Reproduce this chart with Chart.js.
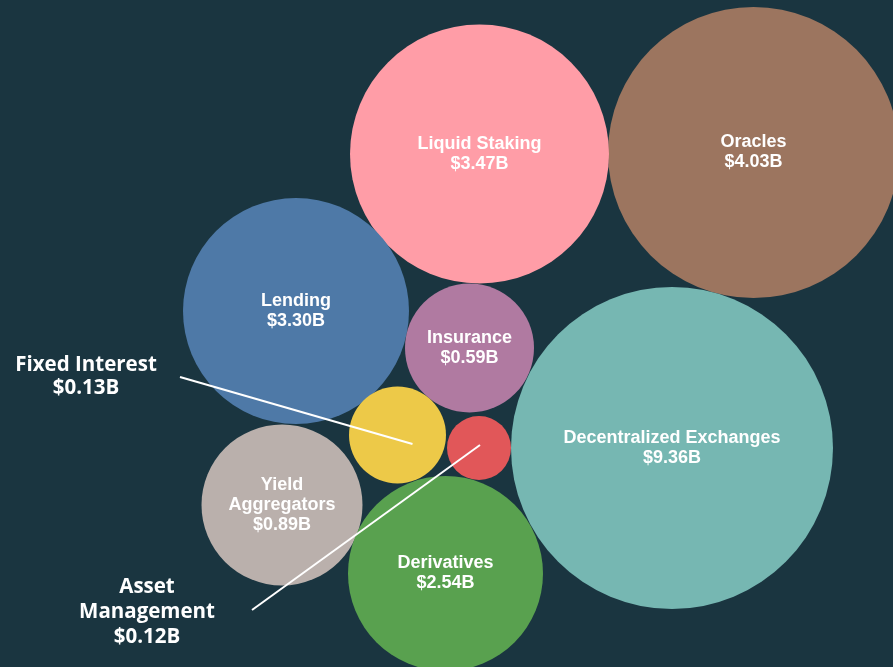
<!DOCTYPE html>
<html>
<head>
<meta charset="utf-8">
<script src="https://cdn.jsdelivr.net/npm/chart.js@4/dist/chart.umd.min.js"></script>
<style>
  html, body { margin: 0; padding: 0; background: #1a3540; }
  #wrap { width: 893px; height: 667px; position: relative; }
</style>
</head>
<body>
<div id="wrap"><canvas id="c" width="893" height="667"></canvas></div>
<script>
// ---- data ----
const categories = ['Oracles', 'Liquid Staking', 'Lending', 'Insurance', 'Decentralized Exchanges', 'Fixed Interest', 'Asset Management', 'Yield Aggregators', 'Derivatives'];
const tvlBillions = [4.03, 3.47, 3.30, 0.59, 9.36, 0.13, 0.12, 0.89, 2.54];
const labelLines = [['Oracles'], ['Liquid Staking'], ['Lending'], ['Insurance'], ['Decentralized Exchanges'], ['Fixed Interest'], ['Asset', 'Management'], ['Yield', 'Aggregators'], ['Derivatives']];

// ---- packed layout (chart units = pixels) ----
const packX = [753.5, 479.5, 296, 469.5, 672, 397.5, 479, 282, 445.5];
const packY = [152.5, 154, 311, 348, 448, 435, 448, 505, 573.5];
const packR = [145.5, 129.5, 113, 64.5, 161, 48.5, 32, 80.5, 97.5];
const colors = ['#9c755f', '#ff9da7', '#4e79a7', '#b07aa1', '#76b7b2', '#edc948', '#e15759', '#bab0ac', '#59a14f'];

// categories labelled outside their bubble with a leader line
const outsideLabels = {
  'Fixed Interest':   { tx: 86,  ty: 365, lh: 23, from: [180, 377], endOff: [15, 9] },
  'Asset Management': { tx: 147, ty: 587, lh: 25, from: [252, 610], endOff: [1, -3] }
};

const fmt = v => '$' + v.toFixed(2) + 'B';

const labelPlugin = {
  id: 'bubbleLabels',
  afterDatasetsDraw(chart) {
    const ctx = chart.ctx;
    const meta = chart.getDatasetMeta(0);
    ctx.save();
    ctx.textAlign = 'center';
    ctx.textBaseline = 'middle';
    ctx.fillStyle = '#ffffff';
    meta.data.forEach((el, i) => {
      const name = categories[i];
      const out = outsideLabels[name];
      if (out) {
        ctx.strokeStyle = '#ffffff';
        ctx.lineWidth = 2;
        ctx.beginPath();
        ctx.moveTo(out.from[0], out.from[1]);
        ctx.lineTo(el.x + out.endOff[0], el.y + out.endOff[1]);
        ctx.stroke();
        ctx.font = 'bold 20.5px "Open Sans", sans-serif';
        const lines = labelLines[i].length > 1 ? labelLines[i] : [name];
        const all = lines.concat([fmt(tvlBillions[i])]);
        all.forEach((t, k) => ctx.fillText(t, out.tx, out.ty + k * out.lh));
      } else {
        ctx.font = 'bold 18px "Liberation Sans", Arial, sans-serif';
        const all = labelLines[i].concat([fmt(tvlBillions[i])]);
        const lh = 20;
        const y0 = el.y - (all.length - 1) * lh / 2;
        all.forEach((t, k) => ctx.fillText(t, el.x, y0 + k * lh));
      }
    });
    ctx.restore();
  }
};

new Chart(document.getElementById('c'), {
  type: 'bubble',
  data: {
    datasets: [{
      label: 'TVL',
      data: categories.map((c, i) => ({ x: packX[i], y: packY[i], r: packR[i], v: tvlBillions[i] })),
      backgroundColor: colors,
      borderWidth: 0,
      hoverRadius: 0
    }]
  },
  options: {
    responsive: false,
    animation: false,
    events: [],
    layout: { padding: 0, autoPadding: false },
    clip: false,
    plugins: { legend: { display: false }, tooltip: { enabled: false } },
    scales: {
      x: { type: 'linear', min: 0, max: 893, display: false },
      y: { type: 'linear', min: 0, max: 667, reverse: true, display: false }
    }
  },
  plugins: [labelPlugin]
});
</script>
</body>
</html>
